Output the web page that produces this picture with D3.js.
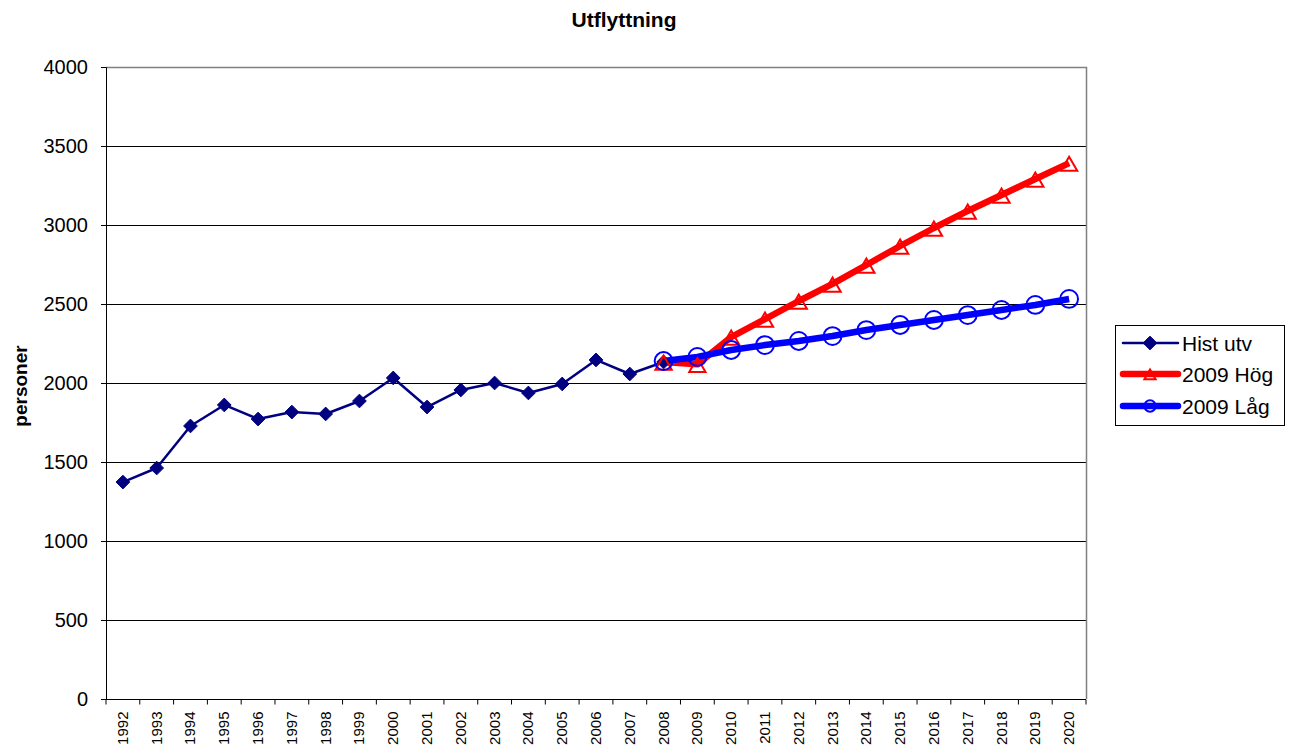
<!DOCTYPE html>
<html>
  <head>
    <style>
      html, body {
        padding: 0;
        margin: 0;
        overflow: hidden;
        background: #ffffff;
      }
      svg {
        font-family: Arial, "Liberation Sans", sans-serif;
      }
      .grid line {
        stroke: #000000;
        stroke-width: 1;
      }
    </style>
  </head>
  <body>
    <div id="chart"></div>
    <script src="https://cdnjs.cloudflare.com/ajax/libs/d3/7.8.5/d3.min.js"></script>
    <script>
      const years = d3.range(1992, 2021).map(String)
      const yTicks = [0, 500, 1000, 1500, 2000, 2500, 3000, 3500, 4000]

      const histYears = years.slice(0, 17)
      const histValues = [1373, 1462, 1728, 1861, 1772, 1816, 1804, 1886, 2032, 1848,
                          1956, 2000, 1937, 1994, 2146, 2057, 2133]

      const progYears = years.slice(16)
      const hogValues = [2133, 2118, 2291, 2405, 2519, 2627, 2747, 2867, 2981, 3089, 3190, 3291, 3392]
      const lagValues = [2139, 2165, 2209, 2240, 2266, 2297, 2335, 2367, 2399, 2430, 2462, 2494, 2532]

      const seriesNames = ['Hist utv', '2009 Hög', '2009 Låg']

      const navy = '#000080'
      const red = '#FF0000'
      const blue = '#0000FF'

      let width = 1290
      let height = 747
      let plot = { left: 106, right: 1086, top: 67, bottom: 699 }

      let svg = d3.select('#chart')
        .append('svg')
        .attr('width', width)
        .attr('height', height)

      let x = d3.scaleBand()
        .domain(years)
        .range([plot.left, plot.right])

      let y = d3.scaleLinear()
        .domain([0, 4000])
        .range([plot.bottom, plot.top])

      let cx = d => x(d) + x.bandwidth() / 2

      // gridlines
      svg.append('g')
        .attr('class', 'grid')
        .selectAll('line')
        .data(yTicks.filter(d => d > 0 && d < 4000))
        .enter().append('line')
        .attr('x1', plot.left)
        .attr('x2', plot.right)
        .attr('y1', d => y(d) + 0.5)
        .attr('y2', d => y(d) + 0.5)

      // plot border (top + right)
      svg.append('path')
        .attr('d', `M${plot.left},${plot.top + 0.5}H${plot.right + 0.5}V${plot.bottom}`)
        .attr('fill', 'none')
        .attr('stroke', '#808080')
        .attr('stroke-width', 1.5)

      // y axis
      let yAxis = svg.append('g')
        .attr('transform', `translate(${plot.left},0)`)
        .call(d3.axisLeft(y).tickValues(yTicks).tickFormat(d3.format('d')).tickSize(5).tickPadding(13))
      yAxis.select('.domain').attr('stroke', '#000')
      yAxis.selectAll('text')
        .attr('font-size', 20)
        .attr('fill', '#000')

      // x axis: ticks between categories
      let xAxis = svg.append('g')
        .attr('transform', `translate(0,${plot.bottom + 0.5})`)
      xAxis.append('line')
        .attr('x1', plot.left - 5)
        .attr('x2', plot.right)
        .attr('stroke', '#000')
      xAxis.selectAll('.tk')
        .data(years.concat(['end']))
        .enter().append('line')
        .attr('class', 'tk')
        .attr('x1', d => d === 'end' ? plot.right : x(d))
        .attr('x2', d => d === 'end' ? plot.right : x(d))
        .attr('y1', 0)
        .attr('y2', 5)
        .attr('stroke', '#000')
      xAxis.selectAll('text')
        .data(years)
        .enter().append('text')
        .attr('transform', d => `translate(${cx(d) + 5},12) rotate(-90)`)
        .attr('text-anchor', 'end')
        .attr('font-size', 15)
        .text(d => d)

      // title + y label
      svg.append('text')
        .attr('x', 624)
        .attr('y', 27)
        .attr('text-anchor', 'middle')
        .attr('font-size', 21)
        .attr('font-weight', 'bold')
        .text('Utflyttning')

      svg.append('text')
        .attr('transform', `translate(27,386) rotate(-90)`)
        .attr('text-anchor', 'middle')
        .attr('font-size', 19)
        .attr('font-weight', 'bold')
        .text('personer')

      let line = d3.line()
        .x(d => cx(d[0]))
        .y(d => y(d[1]))

      let diamond = d3.symbol().type(d3.symbolDiamond2).size(120)
      let triangle = d3.symbol().type(d3.symbolTriangle2).size(190)
      let circle = d3.symbol().type(d3.symbolCircle).size(250)

      let series = [
        { xs: histYears, vals: histValues, color: navy, lw: 2.5, sym: diamond, filled: true, dy: 0 },
        { xs: progYears, vals: hogValues, color: red, lw: 6.5, sym: triangle, filled: false, dy: 3 },
        { xs: progYears, vals: lagValues, color: blue, lw: 6.5, sym: circle, filled: false, dy: 0 }
      ]

      // lines first, then markers on top
      series.forEach(s => {
        s.data = s.xs.map((d, i) => [d, s.vals[i]])
        svg.append('path')
          .datum(s.data)
          .attr('fill', 'none')
          .attr('stroke', s.color)
          .attr('stroke-width', s.lw)
          .attr('stroke-linejoin', 'round')
          .attr('d', line)
      })
      series.forEach(s => {
        svg.append('g')
          .selectAll('path')
          .data(s.data)
          .enter().append('path')
          .attr('transform', d => `translate(${cx(d[0])},${y(d[1]) + s.dy})`)
          .attr('d', s.sym)
          .attr('fill', s.filled ? s.color : 'none')
          .attr('stroke', s.color)
          .attr('stroke-width', s.filled ? 1 : 2)
      })

      // legend
      let legend = svg.append('g')
      legend.append('rect')
        .attr('x', 1115.5)
        .attr('y', 325.5)
        .attr('width', 169)
        .attr('height', 100)
        .attr('fill', '#fff')
        .attr('stroke', '#000')
      let legendY = [343, 374, 406]
      let legendSizes = [120, 90, 100]
      series.forEach((s, i) => {
        let ly = legendY[i]
        legend.append('line')
          .attr('x1', 1123).attr('x2', 1178)
          .attr('y1', ly).attr('y2', ly)
          .attr('stroke', s.color)
          .attr('stroke-width', s.lw)
          .attr('stroke-linecap', 'round')
        legend.append('path')
          .attr('transform', `translate(1150,${ly + (s.dy ? 2 : 0)})`)
          .attr('d', s.sym.size(legendSizes[i])())
          .attr('fill', s.filled ? s.color : 'none')
          .attr('stroke', s.color)
          .attr('stroke-width', s.filled ? 1 : 2)
        legend.append('text')
          .attr('x', 1182)
          .attr('y', ly)
          .attr('dy', '0.36em')
          .attr('font-size', 21)
          .text(seriesNames[i])
      })
    </script>
  </body>
</html>
